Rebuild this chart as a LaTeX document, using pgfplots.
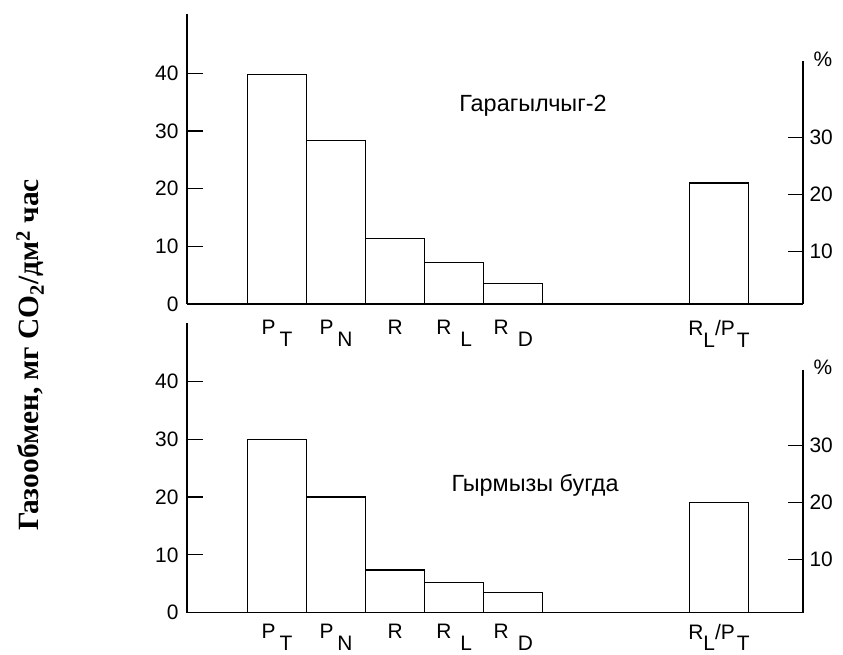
\documentclass[border=0pt]{standalone}
\usepackage{fontspec}
\setmainfont{Liberation Sans}
\newfontfamily\labelserif{Liberation Serif}
\usepackage{pgfplots}
\pgfplotsset{compat=1.18}

% lowered index letter, same size as the main letter
\newcommand{\lo}[1]{\raisebox{-0.55em}{#1}}
\newcommand{\ticksize}{\fontsize{21}{24}\selectfont}

\begin{document}
\begin{tikzpicture}
\path[use as bounding box] (0,0) rectangle (843bp,655bp);

\pgfplotsset{
  common/.style={
    scale only axis, width=616bp,
    xmin=-1.523, xmax=8.903,
    tick label style={font=\ticksize},
    /pgf/number format/assume math mode=true,
    axis line style={line width=1.2bp, black},
    tick align=inside, major tick length=15.5bp,
    major tick style={line width=1.2bp, black},
  },
  gasaxis/.style={
    common,
    ymin=0,
    axis x line*=bottom, axis y line*=left,
    ytick={0,10,20,30,40},
    yticklabel style={xshift=-5bp},
    xtick={0,1,2,3,4,7.48},
    xticklabels={{P\hspace{4bp}\lo{T}},{P\hspace{4bp}\lo{N}},R,{R\hspace{9bp}\lo{L}},{R\hspace{9bp}\lo{D}},{R\lo{L}/P\hspace{2bp}\lo{T}}},
    x tick style={draw=none},
    xticklabel style={yshift=-13bp},
  },
  pctaxis/.style={
    common,
    axis x line=none, axis y line*=right,
    ytick={10,20,30},
    yticklabel style={xshift=3bp},
  },
  column/.style={ybar, bar width=1, bar shift=0pt, draw=black, fill=white, line width=1.2bp},
}

% ---------- upper panel: Гарагылчыг-2 ----------
\begin{axis}[pctaxis, at={(187bp,351bp)}, anchor=south west,
  height=243bp, ymin=0.86, ymax=43.3]
  \addplot[column] coordinates {(7.48,22.0)};
\end{axis}
\begin{axis}[gasaxis, at={(187bp,351bp)}, anchor=south west,
  height=290bp, ymax=50.3]
  \addplot[column] coordinates {(0,39.8) (1,28.4) (2,11.4) (3,7.2) (4,3.6)};
\end{axis}

% ---------- lower panel: Гырмызы бугда ----------
\begin{axis}[pctaxis, at={(187bp,42.3bp)}, anchor=south west,
  height=242.7bp, ymin=0.6, ymax=43.3]
  \addplot[column] coordinates {(7.48,20.0)};
\end{axis}
\begin{axis}[gasaxis, at={(187bp,42.3bp)}, anchor=south west,
  height=289.7bp, ymax=50.1, xticklabel style={yshift=5bp}]
  \addplot[column] coordinates {(0,30.0) (1,20.0) (2,7.4) (3,5.2) (4,3.5)};
\end{axis}

% panel titles
\node[anchor=base, font=\fontsize{23.5}{26}\selectfont, inner sep=0pt] at (533bp,543bp) {Гарагылчыг-2};
\node[anchor=base, font=\fontsize{23.5}{26}\selectfont, inner sep=0pt] at (535bp,163bp) {Гырмызы бугда};

% percent unit on the right-hand axes
\node[font=\ticksize, inner sep=0pt] at (823bp,596bp) {\%};
\node[font=\ticksize, inner sep=0pt] at (823bp,288bp) {\%};

% common y label
\node[rotate=90, font=\labelserif\bfseries\fontsize{29.5}{33}\selectfont, inner sep=0pt]
  at (30bp,300bp) {Газообмен, мг CO\textsubscript{2}/дм\textsuperscript{2} час};
\end{tikzpicture}
\end{document}
